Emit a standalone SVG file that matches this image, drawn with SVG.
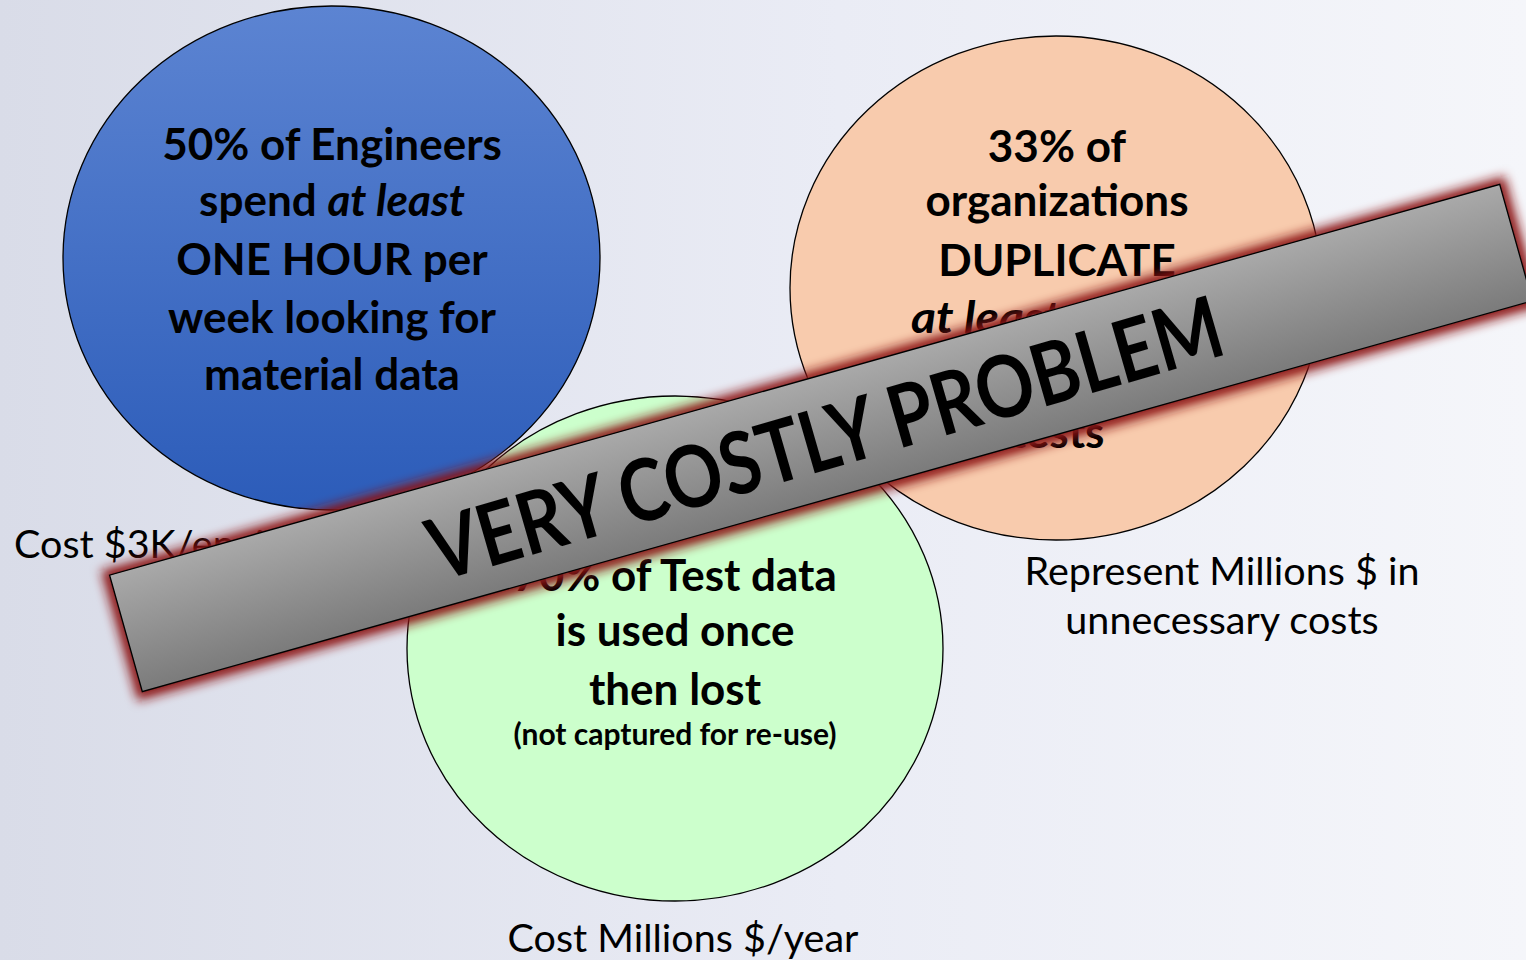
<svg xmlns="http://www.w3.org/2000/svg" width="1526" height="960" viewBox="0 0 1526 960">
  <defs>
    <linearGradient id="bg" x1="0" y1="0" x2="1" y2="0">
      <stop offset="0" stop-color="#d9dce8"/>
      <stop offset="0.55" stop-color="#eaecf5"/>
      <stop offset="1" stop-color="#f5f6fa"/>
    </linearGradient>
    <linearGradient id="blueFill" x1="0" y1="0" x2="0" y2="1">
      <stop offset="0" stop-color="#5c84d2"/>
      <stop offset="1" stop-color="#2c5cb9"/>
    </linearGradient>
    <linearGradient id="bannerFill" x1="0" y1="0" x2="0" y2="1">
      <stop offset="0" stop-color="#a9a9a9"/>
      <stop offset="1" stop-color="#7b7b7b"/>
    </linearGradient>
    <filter id="glow" x="-10%" y="-50%" width="120%" height="200%">
      <feGaussianBlur stdDeviation="5.5"/>
    </filter>
    <style>
      .circle { stroke: #000; stroke-width: 1.3; }
      .big { font-family: Lato, "Liberation Sans", sans-serif; font-weight: bold; font-size: 44px; fill: #000; text-anchor: middle; }
      .big-start { font-family: Lato, "Liberation Sans", sans-serif; font-weight: bold; font-style: italic; font-size: 44px; fill: #000; text-anchor: start; }
      .small { font-family: Lato, "Liberation Sans", sans-serif; font-weight: bold; font-size: 30px; fill: #000; text-anchor: middle; }
      .label { font-family: Lato, "Liberation Sans", sans-serif; font-size: 39.5px; fill: #000; }
      .label-mid { font-family: Lato, "Liberation Sans", sans-serif; font-size: 39.5px; fill: #000; text-anchor: middle; }
      .banner-text { font-family: Lato, "Liberation Sans", sans-serif; font-weight: bold; font-size: 86px; fill: #000; text-anchor: middle; }
    </style>
  </defs>

  <rect id="background" x="0" y="0" width="1526" height="960" fill="url(#bg)"/>

  <g id="node-green">
    <ellipse class="circle" cx="675" cy="648.5" rx="268" ry="252.5" fill="#ccffcc"/>
    <text class="big" x="675" y="591">70% of Test data</text>
    <text class="big" x="675" y="646">is used once</text>
    <text class="big" x="675" y="705">then lost</text>
    <text class="small" x="675" y="745">(not captured for re-use)</text>
  </g>

  <g id="node-blue">
    <ellipse class="circle" cx="331.5" cy="258" rx="268.5" ry="252" fill="url(#blueFill)"/>
    <text class="big" x="332" y="160">50% of Engineers</text>
    <text class="big" x="332" y="216">spend <tspan font-style="italic">at least</tspan></text>
    <text class="big" x="332" y="275">ONE HOUR per</text>
    <text class="big" x="332" y="333">week looking for</text>
    <text class="big" x="332" y="390">material data</text>
  </g>

  <g id="node-peach">
    <ellipse class="circle" cx="1056" cy="288" rx="266" ry="252" fill="#f8cbad"/>
    <text class="big" x="1057" y="162">33% of</text>
    <text class="big" x="1057" y="216">organizations</text>
    <text class="big" x="1057" y="276">DUPLICATE</text>
    <text class="big-start" x="911" y="333" textLength="150" lengthAdjust="spacingAndGlyphs">at least</text>
    <text class="big" x="1057" y="448">tests</text>
  </g>

  <g id="labels">
    <text class="label" x="14" y="558">Cost $3K/engineer/year</text>
    <text class="label-mid" x="1222" y="585">Represent Millions $ in</text>
    <text class="label-mid" x="1222" y="634">unnecessary costs</text>
    <text class="label-mid" x="683" y="952">Cost Millions $/year</text>
  </g>

  <g id="banner" transform="translate(821,438) rotate(-15.7)">
    <rect x="-729" y="-67" width="1458" height="135" fill="#8b1212" filter="url(#glow)"/>
    <rect x="-722" y="-60.5" width="1444" height="121" fill="url(#bannerFill)" stroke="#000" stroke-width="1.3"/>
    <text class="banner-text" x="4" y="32" textLength="822" lengthAdjust="spacingAndGlyphs" transform="rotate(-0.4)">VERY COSTLY PROBLEM</text>
  </g>
</svg>
